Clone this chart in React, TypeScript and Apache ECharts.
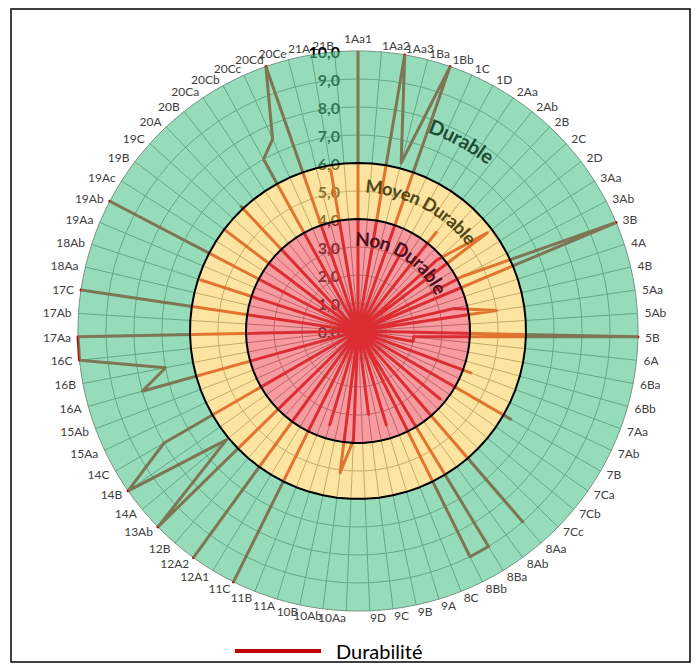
import React, { useEffect, useRef } from 'react';
import * as echarts from 'echarts';

const categories = [
  '1Aa1', '1Aa2', '1Aa3', '1Ba', '1Bb', '1C', '1D', '2Aa', '2Ab', '2B', '2C', '2D', '3Aa', '3Ab', '3B',
  '4A', '4B', '5Aa', '5Ab', '5B', '6A', '6Ba', '6Bb', '7Aa', '7Ab', '7B', '7Ca', '7Cb', '7Cc', '8Aa',
  '8Ab', '8Ba', '8Bb', '8C', '9A', '9B', '9C', '9D', '10Aa', '10Ab', '10B', '11A', '11B', '11C', '12A1',
  '12A2', '12B', '13Ab', '14A', '14B', '14C', '15Aa', '15Ab', '16A', '16B', '16C', '17Aa', '17Ab', '17C',
  '18Aa', '18Ab', '19Aa', '19Ab', '19Ac', '19B', '19C', '20A', '20B', '20Ca', '20Cb', '20Cc', '20Cd',
  '20Ce', '21A', '21B',
];

const durabilite = [
  10, 0, 10, 6.2, 10, 0, 3.5, 0, 4.5, 0, 3.8, 5.8, 0, 4.2, 10,
  0, 3.5, 5.0, 0, 10, 2.0, 2.0, 0, 4.3, 0, 6.3, 0, 3.8, 0, 9.0,
  0, 9.0, 9.0, 0, 3.5, 0, 3.0, 0, 3.9, 5.1, 0, 3.5, 0, 10, 0,
  10, 0, 10, 6.1, 10, 8, 0, 0, 8, 7, 10, 10, 0, 10,
  0, 5.9, 0, 10, 0, 6.0, 0, 6.1, 0, 0, 7.0, 7.5, 10,
  0, 5.8, 0,
];

// upper bound of each durability zone
const zoneNames = ['Non Durable', 'Moyen Durable', 'Durable'];
const zoneLimits = [4, 6, 10];
const zoneFills = ['rgba(240,79,88,0.57)', 'rgba(252,207,86,0.56)', 'rgba(80,195,140,0.6)'];

const axisMax = 10;
const axisSplits = 10;

const CX = 358;
const CY = 331;
const R = 280;

function arcText(text: string, radiusUnits: number, centerDeg: number, size: number, color: string) {
  const ctx = document.createElement('canvas').getContext('2d')!;
  const font = `bold ${size}px Lato`;
  ctx.font = font;
  const chars = [...text];
  const widths = chars.map((c) => ctx.measureText(c).width);
  const total = widths.reduce((a, b) => a + b, 0);
  const r = (radiusUnits * R) / axisMax;
  let acc = -total / 2;
  return chars.map((c, i) => {
    const a = (centerDeg * Math.PI) / 180 + (acc + widths[i] / 2) / r;
    acc += widths[i];
    return {
      type: 'text',
      x: CX + r * Math.sin(a),
      y: CY - r * Math.cos(a),
      rotation: -a,
      z: 20,
      silent: true,
      style: {
        text: c,
        font,
        fill: color,
        align: 'center',
        verticalAlign: 'middle',
        shadowColor: 'rgba(0,0,0,0.35)',
        shadowBlur: 2,
        shadowOffsetX: 1,
        shadowOffsetY: 1,
      },
    };
  });
}

export default function App() {
  const ref = useRef<HTMLDivElement>(null);
  useEffect(() => {
    const chart = echarts.init(ref.current!, null, { renderer: 'svg' });
    const N = categories.length;
    // radar runs counter-clockwise: keep first category on top, reverse the rest
    const order = [0, ...Array.from({ length: N - 1 }, (_, i) => N - 1 - i)];
    const indicator = order.map((idx, k) => {
      const ind: any = { name: categories[idx], min: 0, max: axisMax };
      if (k === 0) {
        ind.axisLabel = {
          show: true,
          formatter: (v: number) => v.toFixed(1).replace('.', ','),
          fontFamily: 'Lato',
          fontWeight: 'bold',
          fontSize: 16,
          color: '#000',
          margin: 18,
        };
      }
      return ind;
    });
    const values = order.map((i) => durabilite[i]);

    const zoneBars = zoneLimits.map((lim, i) => ({
      type: 'bar',
      name: zoneNames[i],
      coordinateSystem: 'polar',
      stack: 'zones',
      data: [i === 0 ? lim : lim - zoneLimits[i - 1]],
      barWidth: '100%',
      barCategoryGap: '0%',
      itemStyle: { color: zoneFills[i] },
      z: 5,
      silent: true,
      emphasis: { disabled: true },
    }));

    const borders = [zoneLimits[0], zoneLimits[1]].map((lim) => ({
      type: 'radar',
      name: 'limit' + lim,
      z: 6,
      silent: true,
      symbol: 'none',
      lineStyle: { color: '#000', width: 2 },
      emphasis: { disabled: true },
      data: [{ value: order.map(() => lim) }],
    }));

    const option: any = {
      animation: false,
      radar: {
        center: [CX, CY],
        radius: R,
        startAngle: 90,
        shape: 'circle',
        splitNumber: axisSplits,
        indicator,
        nameGap: 7,
        axisName: { color: '#404040', fontFamily: 'Lato', fontSize: 12 },
        splitLine: { lineStyle: { color: '#7f7f7f', width: 1 } },
        axisLine: { lineStyle: { color: '#7f7f7f', width: 1 } },
        splitArea: { show: false },
        axisLabel: { show: false },
        axisTick: { show: false },
      },
      polar: { center: [CX, CY], radius: [0, R] },
      angleAxis: { type: 'category', data: ['zone'], show: false, startAngle: 90 },
      radiusAxis: { type: 'value', min: 0, max: axisMax, show: false },
      legend: {
        data: ['Durabilité'],
        left: 230,
        top: 636,
        icon: 'rect',
        itemWidth: 86,
        itemHeight: 4,
        selectedMode: false,
        textStyle: { fontFamily: 'Lato', fontSize: 20, color: '#000', padding: [0, 0, 0, 10] },
      },
      graphic: {
        elements: [
          {
            type: 'rect',
            shape: { x: 11, y: 9, width: 679, height: 653 },
            style: { fill: 'none', stroke: '#000', lineWidth: 1.5 },
            z: 30,
            silent: true,
          },
          ...arcText('Durable', 7.8, 28.6, 20, '#1d4d36'),
          ...arcText('Moyen Durable', 5.2, 27.6, 18, '#4f4616'),
          ...arcText('Non Durable', 3.3, 32, 19, '#4d0f1c'),
        ],
      },
      series: [
        {
          type: 'radar',
          name: 'Durabilité',
          z: 2,
          symbol: 'none',
          silent: true,
          itemStyle: { color: '#C00000' },
          lineStyle: { color: '#C00000', width: 3 },
          emphasis: { disabled: true },
          data: [{ value: values, name: 'Durabilité' }],
        },
        ...zoneBars,
        ...borders,
      ],
    };
    chart.setOption(option);
    return () => chart.dispose();
  }, []);
  return (
    <div
      ref={ref}
      style={{ position: 'fixed', left: 0, top: 0, width: 697, height: 668, background: '#fff' }}
    />
  );
}
